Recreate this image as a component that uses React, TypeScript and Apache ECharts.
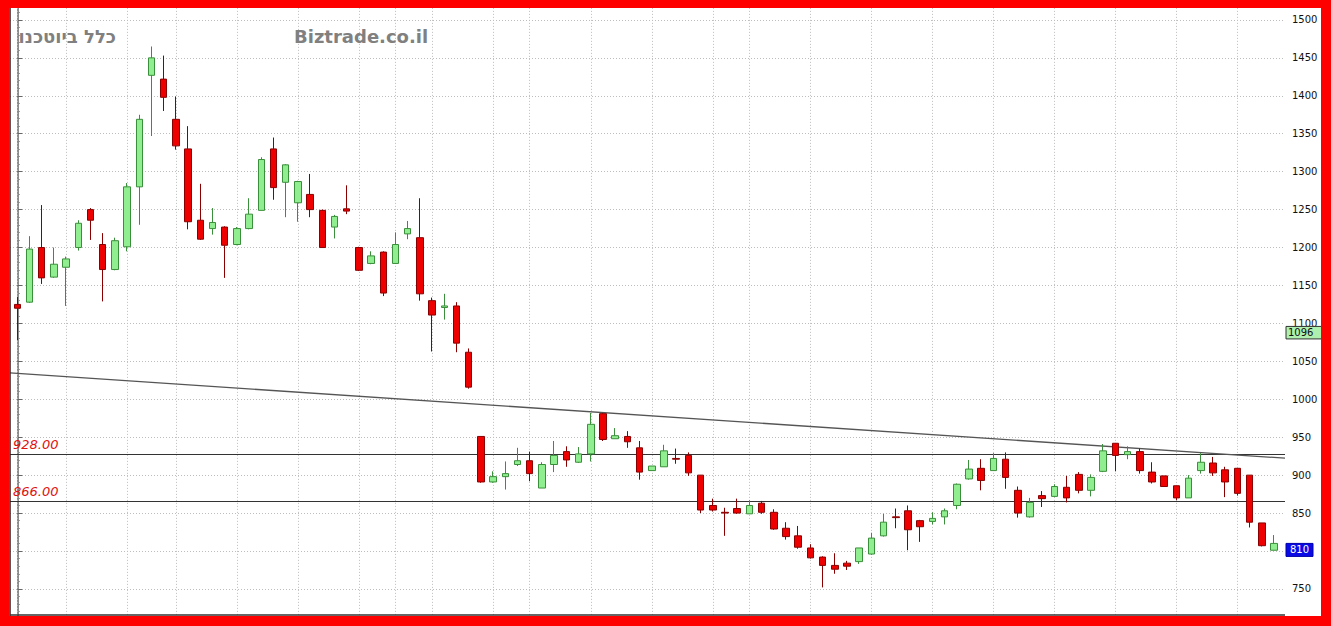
import React, { useEffect, useRef } from "react";
import * as echarts from "echarts";

// Weekly candles (open, close, low, high), oldest first
const opens = [
  1125, 1128, 1200, 1161, 1174, 1200, 1250, 1204, 1171, 1201, 1280, 1427, 1422, 1369, 1330, 1236, 1225, 1227, 1204, 1225,
  1249, 1330, 1286, 1259, 1270, 1249, 1227, 1251, 1200, 1179, 1194, 1179, 1218, 1213, 1130, 1121, 1123, 1062, 951, 891,
  898, 914, 919, 883, 914, 931, 917, 928, 981, 948, 951, 936, 906, 911, 922, 926, 900, 860, 851, 856,
  849, 863, 851, 830, 820, 804, 792, 781, 784, 786, 796, 820, 845, 853, 840, 839, 845, 860, 895, 909,
  906, 921, 880, 845, 873, 872, 884, 901, 880, 905, 942, 927, 931, 904, 899, 886, 870, 906, 916, 907,
  909, 900, 837, 801,
];
const closes = [
  1120, 1198, 1160, 1178, 1185, 1232, 1236, 1171, 1209, 1280, 1369, 1450, 1398, 1334, 1234, 1211, 1233, 1203, 1225, 1244,
  1316, 1279, 1309, 1287, 1250, 1200, 1241, 1248, 1170, 1189, 1140, 1204, 1225, 1139, 1111, 1123, 1074, 1016, 891, 898,
  902, 919, 902, 914, 926, 920, 928, 967, 947, 952, 944, 904, 912, 932, 921, 903, 854, 854, 850, 850,
  860, 851, 829, 819, 805, 791, 781, 776, 780, 804, 817, 838, 844, 828, 832, 843, 853, 888, 908, 893,
  922, 897, 850, 864, 869, 885, 870, 880, 897, 932, 926, 931, 906, 891, 885, 870, 896, 917, 903, 891,
  876, 838, 807, 810,
];
const lows = [
  1078, 1127, 1152, 1160, 1123, 1196, 1210, 1129, 1170, 1195, 1230, 1347, 1380, 1329, 1224, 1210, 1217, 1160, 1203, 1224,
  1249, 1263, 1240, 1234, 1240, 1200, 1212, 1244, 1169, 1178, 1136, 1179, 1211, 1130, 1063, 1105, 1062, 1014, 890, 890,
  881, 912, 892, 883, 904, 911, 916, 918, 945, 948, 936, 894, 906, 911, 915, 899, 850, 852, 820, 849,
  849, 849, 828, 815, 803, 790, 752, 770, 775, 783, 795, 819, 830, 801, 812, 835, 835, 855, 894, 880,
  906, 882, 844, 844, 858, 871, 864, 876, 872, 904, 905, 921, 902, 889, 885, 867, 870, 902, 899, 871,
  873, 831, 806, 801,
];
const highs = [
  1135, 1215, 1256, 1200, 1188, 1236, 1252, 1219, 1213, 1285, 1375, 1465, 1453, 1399, 1360, 1284, 1252, 1228, 1227, 1265,
  1319, 1345, 1310, 1288, 1297, 1250, 1243, 1282, 1201, 1195, 1195, 1220, 1235, 1265, 1134, 1139, 1128, 1067, 951, 905,
  918, 936, 931, 917, 945, 938, 937, 982, 982, 962, 958, 945, 912, 940, 935, 930, 900, 869, 857, 869,
  867, 866, 855, 838, 833, 809, 793, 797, 787, 804, 824, 849, 856, 860, 841, 851, 856, 889, 920, 921,
  929, 930, 885, 870, 879, 888, 899, 904, 901, 941, 942, 938, 935, 917, 899, 886, 900, 929, 924, 911,
  909, 900, 837, 821,
];

// candle indices where the month grid lines fall
const monthGridIdx = [0, 4, 9, 13, 18, 23, 28, 31, 34, 39, 42, 47, 52, 57, 60, 65, 70, 75, 80, 85, 90, 95, 100];
const supportLevels = [928, 866];
const trendStart = [-0.598, 1034.7];
const trendEnd = [103.9, 922.3];
const refPrice = 1096;
const lastPrice = 810;
const yMin = 700;
const yMax = 1550;
const yStep = 50;
const xMin = -0.598;
const xMax = 103.9;

const OFF = 17.93; // the chart div starts above the window so that 1550 sits off-screen

export default function App() {
  const ref = useRef<HTMLDivElement>(null);
  useEffect(() => {
    if (!ref.current) return;
    const chart = echarts.init(ref.current, undefined, { renderer: "svg" });
    const candleData = opens.map((o, i) => [i, o, closes[i], lows[i], highs[i]]);
    const font = "DejaVu Sans";
    const option: any = {
      animation: false,
      backgroundColor: "#ffffff",
      grid: { left: 10, top: 0, width: 1275, height: 644.87, containLabel: false },
      xAxis: {
        type: "value",
        min: xMin,
        max: xMax,
        show: false,
        splitLine: { show: false },
      },
      yAxis: {
        type: "value",
        position: "right",
        min: yMin,
        max: yMax,
        interval: yStep,
        axisLine: { show: true, lineStyle: { color: "#666", width: 1.5 } },
        axisTick: { show: true, inside: false, length: 5, lineStyle: { color: "#666" } },
        minorTick: { show: true, splitNumber: 5, length: 2.5, lineStyle: { color: "#888" } },
        minorSplitLine: { show: false },
        axisLabel: {
          margin: 7,
          fontSize: 10,
          color: "#111",
          fontFamily: font,
          formatter: (v: number) => (v === yMin || v === yMax ? "" : String(v)),
        },
        splitLine: { show: true, lineStyle: { color: "#bdbdbd", width: 1, type: [1, 2] } },
      },
      series: [
        {
          type: "line",
          data: [],
          silent: true,
          markLine: {
            silent: true,
            symbol: "none",
            z: 1,
            animation: false,
            label: { show: false },
            data: [
              ...monthGridIdx.map((i) => ({
                xAxis: i,
                lineStyle: { color: "#bdbdbd", width: 1, type: [1, 2] },
              })),
              ...supportLevels.map((v) => ({
                yAxis: v,
                lineStyle: { color: "#333", width: 1.2, type: "solid" },
                label: {
                  show: true,
                  position: "insideStartTop",
                  formatter: v.toFixed(2),
                  color: "#e01010",
                  fontStyle: "italic",
                  fontSize: 13,
                  fontFamily: font,
                  distance: 3,
                },
              })),
              [
                { coord: trendStart, lineStyle: { color: "#555", width: 1.3, type: "solid" } },
                { coord: trendEnd },
              ],
            ],
          },
        },
        {
          type: "candlestick",
          z: 5,
          data: candleData,
          barWidth: 7,
          clip: false,
          itemStyle: {
            color: "#90ee90",
            color0: "#ee0000",
            borderColor: "#3a8f3a",
            borderColor0: "#8a0000",
            borderWidth: 1,
          },
        },
      ],
    };
    chart.setOption(option);

    const pRef = chart.convertToPixel({ gridIndex: 0 }, [xMax, refPrice]) as number[];
    const pLast = chart.convertToPixel({ gridIndex: 0 }, [xMax, lastPrice]) as number[];
    const xr = pRef[0];
    const Y = (y: number) => y + OFF;
    chart.setOption({
      graphic: {
        elements: [
          {
            type: "text",
            x: 116,
            y: Y(37),
            z: 50,
            style: { text: "כלל ביוטכנו", fill: "#808080", font: `bold 18px "${font}"`, align: "right", verticalAlign: "middle" },
          },
          {
            type: "text",
            x: 294,
            y: Y(37),
            z: 50,
            style: { text: "Biztrade.co.il", fill: "#808080", font: `bold 18px "${font}"`, align: "left", verticalAlign: "middle" },
          },
          {
            type: "rect",
            z: 60,
            shape: { x: xr + 1, y: pRef[1], width: 36, height: 12.5 },
            style: { fill: "#aef0ae", stroke: "#333", lineWidth: 1 },
          },
          {
            type: "text",
            z: 61,
            x: xr + 3,
            y: pRef[1] + 6.5,
            style: { text: String(refPrice), fill: "#111", font: `10px "${font}"`, align: "left", verticalAlign: "middle" },
          },
          {
            type: "rect",
            z: 60,
            shape: { x: xr + 1, y: pLast[1], width: 27, height: 13 },
            style: { fill: "#0a0ae6", stroke: "#0000aa", lineWidth: 1 },
          },
          {
            type: "text",
            z: 61,
            x: xr + 14.5,
            y: pLast[1] + 6.5,
            style: { text: String(lastPrice), fill: "#ffffff", font: `10px "${font}"`, align: "center", verticalAlign: "middle" },
          },
          { type: "line", z: 90, shape: { x1: 10, y1: Y(8), x2: 10, y2: Y(616) }, style: { stroke: "#222", lineWidth: 1.5 } },
          { type: "line", z: 90, shape: { x1: 10, y1: Y(615), x2: xr, y2: Y(615) }, style: { stroke: "#333", lineWidth: 1.5 } },
          { type: "rect", z: 100, shape: { x: 0, y: 0, width: 1331, height: Y(8) }, style: { fill: "#ff0000" } },
          { type: "rect", z: 100, shape: { x: 0, y: Y(616), width: 1331, height: 40 }, style: { fill: "#ff0000" } },
          { type: "rect", z: 100, shape: { x: 0, y: 0, width: 9.3, height: 700 }, style: { fill: "#ff0000" } },
          { type: "rect", z: 100, shape: { x: 1321, y: 0, width: 10, height: 700 }, style: { fill: "#ff0000" } },
        ],
      },
    });
    return () => chart.dispose();
  }, []);
  return <div ref={ref} style={{ position: "absolute", left: 0, top: -OFF, width: 1331, height: 646 }} />;
}
